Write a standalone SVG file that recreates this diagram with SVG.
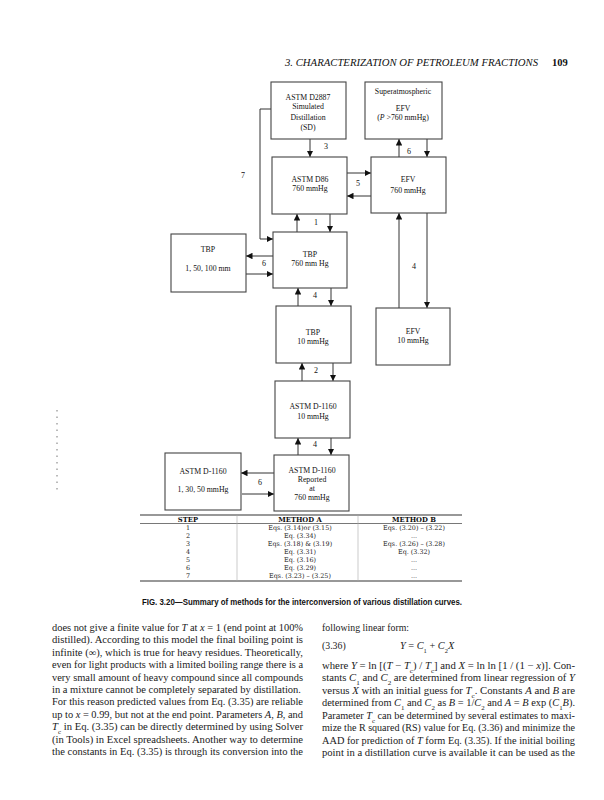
<svg xmlns="http://www.w3.org/2000/svg" width="604" height="800" viewBox="0 0 604 800">
<defs>
<marker id="ah" viewBox="0 0 10 10" refX="10" refY="5" markerWidth="6.5" markerHeight="6.5" markerUnits="userSpaceOnUse" orient="auto">
<path d="M0,0 L10,5 L0,10 z" fill="#111"/>
</marker>
<style>
.box{fill:#fff;stroke:#444;stroke-width:1.1}
.bt{font-family:"Liberation Serif",serif;font-size:7.8px;fill:#111;text-anchor:middle}
.lb{font-family:"Liberation Serif",serif;font-size:8px;fill:#111;text-anchor:middle}
.cn{fill:none;stroke:#333;stroke-width:1}
.ar{marker-end:url(#ah)}
.tt{font-family:"DejaVu Serif","Liberation Serif",serif;font-size:6.4px;fill:#222;text-anchor:middle}
.th{font-family:"DejaVu Serif","Liberation Serif",serif;font-size:6.8px;font-weight:bold;fill:#111;text-anchor:middle}
.body{font-family:"Liberation Serif",serif;font-size:9.8px;fill:#1a1a1a}
.i{font-style:italic}
.sb{font-size:6.5px;baseline-shift:sub}
</style>
</defs>
<rect width="604" height="800" fill="#fff"/>

<text x="285" y="66" font-family="Liberation Serif, serif" font-style="italic" font-size="10.5" fill="#111" textLength="253" lengthAdjust="spacingAndGlyphs">3. CHARACTERIZATION OF PETROLEUM FRACTIONS</text>
<text x="552" y="66" font-family="Liberation Serif, serif" font-weight="bold" font-size="10.5" fill="#111">109</text>

<g id="connectors">
<path class="cn ar" d="M310,139 V157"/>
<path class="cn ar" d="M399,157 V139"/>
<path class="cn ar" d="M427,139 V157"/>
<path class="cn ar" d="M347,173 H371"/>
<path class="cn ar" d="M371,196 H347"/>
<path class="cn ar" d="M297,232 V214"/>
<path class="cn ar" d="M330,214 V232"/>
<path class="cn ar" d="M271,109 H260 V239 H273" stroke="#555"/>
<path class="cn ar" d="M273,256 H246"/>
<path class="cn ar" d="M246,274 H273"/>
<path class="cn ar" d="M298,306 V288"/>
<path class="cn ar" d="M331,288 V306"/>
<path class="cn ar" d="M399,308 V213"/>
<path class="cn ar" d="M427,213 V308"/>
<path class="cn ar" d="M302,381 V363"/>
<path class="cn ar" d="M333,363 V381"/>
<path class="cn ar" d="M298,455 V438"/>
<path class="cn ar" d="M331,438 V455"/>
<path class="cn ar" d="M274,473 H241"/>
<path class="cn ar" d="M242,494 H274"/>
<text class="lb" x="326" y="149">3</text>
<text class="lb" x="409" y="154" font-size="6.5">6</text>
<text class="lb" x="358" y="186">5</text>
<text class="lb" x="243" y="178">7</text>
<text class="lb" x="316" y="225">1</text>
<text class="lb" x="264" y="266">6</text>
<text class="lb" x="315" y="298">4</text>
<text class="lb" x="414" y="269">4</text>
<text class="lb" x="316" y="373">2</text>
<text class="lb" x="315" y="447">4</text>
<text class="lb" x="260" y="485">6</text>
</g>

<g id="sd">
<rect class="box" x="271" y="82" width="75" height="57"/>
<text class="bt" x="308" y="100">ASTM D2887</text>
<text class="bt" x="308" y="108.5">Simulated</text>
<text class="bt" x="308" y="119.5">Distillation</text>
<text class="bt" x="308" y="129.5">(SD)</text>
</g>
<g id="super">
<rect class="box" x="365" y="82" width="77" height="57"/>
<text class="bt" x="403" y="93.5">Superatmospheric</text>
<text class="bt" x="403" y="110.5">EFV</text>
<text class="bt" x="403" y="119.5">(<tspan font-style="italic">P</tspan> &gt;760 mmHg)</text>
</g>
<g id="d86">
<rect class="box" x="272" y="157" width="75" height="57"/>
<text class="bt" x="310" y="181.5">ASTM D86</text>
<text class="bt" x="310" y="190.5">760 mmHg</text>
</g>
<g id="efv760">
<rect class="box" x="371" y="157" width="75" height="56"/>
<text class="bt" x="408" y="181.5">EFV</text>
<text class="bt" x="408" y="192.5">760 mmHg</text>
</g>
<g id="tbp1">
<rect class="box" x="171" y="234" width="75" height="58"/>
<text class="bt" x="208" y="251.5">TBP</text>
<text class="bt" x="208" y="270.5">1, 50, 100 mm</text>
</g>
<g id="tbp760">
<rect class="box" x="273" y="232" width="74" height="56"/>
<text class="bt" x="310" y="256.5">TBP</text>
<text class="bt" x="310" y="265.5">760 mm Hg</text>
</g>
<g id="tbp10">
<rect class="box" x="276" y="306" width="75" height="57"/>
<text class="bt" x="313" y="334.5">TBP</text>
<text class="bt" x="313" y="343.5">10 mmHg</text>
</g>
<g id="efv10">
<rect class="box" x="376" y="308" width="74" height="57"/>
<text class="bt" x="413" y="333.5">EFV</text>
<text class="bt" x="413" y="342.5">10 mmHg</text>
</g>
<g id="d1160_10">
<rect class="box" x="275" y="381" width="75" height="57"/>
<text class="bt" x="313" y="408.5">ASTM D-1160</text>
<text class="bt" x="313" y="418.5">10 mmHg</text>
</g>
<g id="d1160_rep">
<rect class="box" x="274" y="455" width="75" height="56"/>
<text class="bt" x="312" y="472.5">ASTM D-1160</text>
<text class="bt" x="312" y="481.5">Reported</text>
<text class="bt" x="312" y="490.5">at</text>
<text class="bt" x="312" y="499.5">760 mmHg</text>
</g>
<g id="d1160_1">
<rect class="box" x="165" y="453" width="76" height="57"/>
<text class="bt" x="203" y="473.5">ASTM D-1160</text>
<text class="bt" x="203" y="491.5">1, 30, 50 mmHg</text>
</g>

<line x1="57" y1="410" x2="57" y2="494" stroke="#777" stroke-width="1" stroke-dasharray="1.5 5"/>

<g id="table">
<line x1="140" y1="515" x2="462" y2="515" stroke="#333" stroke-width="1.2"/>
<line x1="140" y1="523.5" x2="462" y2="523.5" stroke="#555" stroke-width="0.8"/>
<line x1="140" y1="581" x2="462" y2="581" stroke="#333" stroke-width="1.2"/>
<line x1="237" y1="515" x2="237" y2="581" stroke="#aaa" stroke-width="0.6"/>
<line x1="358" y1="515" x2="358" y2="581" stroke="#aaa" stroke-width="0.6"/>
<text class="th" x="188" y="521.5">STEP</text>
<text class="th" x="300" y="521.5">METHOD A</text>
<text class="th" x="414" y="521.5">METHOD B</text>
<text class="tt" x="188" y="530.3">1</text>
<text class="tt" x="188" y="538.3">2</text>
<text class="tt" x="188" y="546.3">3</text>
<text class="tt" x="188" y="554.3">4</text>
<text class="tt" x="188" y="562.3">5</text>
<text class="tt" x="188" y="570.3">6</text>
<text class="tt" x="188" y="578.3">7</text>
<text class="tt" x="300" y="530.3">Eqs.  (3.14)or (3.15)</text>
<text class="tt" x="300" y="538.3">Eq. (3.34)</text>
<text class="tt" x="300" y="546.3">Eqs. (3.18) &amp; (3.19)</text>
<text class="tt" x="300" y="554.3">Eq. (3.31)</text>
<text class="tt" x="300" y="562.3">Eq. (3.16)</text>
<text class="tt" x="300" y="570.3">Eq. (3.29)</text>
<text class="tt" x="300" y="578.3">Eqs. (3.23) – (3.25)</text>
<text class="tt" x="414" y="530.3">Eqs.  (3.20) – (3.22)</text>
<text class="tt" x="414" y="538.3">...</text>
<text class="tt" x="414" y="546.3">Eqs.  (3.26) – (3.28)</text>
<text class="tt" x="414" y="554.3">Eq. (3.32)</text>
<text class="tt" x="414" y="562.3">...</text>
<text class="tt" x="414" y="570.3">...</text>
<text class="tt" x="414" y="578.3">...</text>
</g>

<text x="142" y="605" font-family="Liberation Sans, Arial, sans-serif" font-weight="bold" font-size="8.2" fill="#111" textLength="320" lengthAdjust="spacingAndGlyphs">FIG. 3.20—Summary of methods for the interconversion of various distillation curves.</text>

<g id="leftcol" class="body">
<text x="52" y="631" textLength="251" lengthAdjust="spacingAndGlyphs">does not give a finite value for <tspan class="i">T</tspan> at <tspan class="i">x</tspan> = 1 (end point at 100%</text>
<text x="52" y="643.4" textLength="251" lengthAdjust="spacingAndGlyphs">distilled). According to this model the final boiling point is</text>
<text x="52" y="655.8" textLength="251" lengthAdjust="spacingAndGlyphs">infinite (∞), which is true for heavy residues. Theoretically,</text>
<text x="52" y="668.2" textLength="251" lengthAdjust="spacingAndGlyphs">even for light products with a limited boiling range there is a</text>
<text x="52" y="680.6" textLength="251" lengthAdjust="spacingAndGlyphs">very small amount of heavy compound since all compounds</text>
<text x="52" y="693" textLength="249" lengthAdjust="spacingAndGlyphs">in a mixture cannot be completely separated by distillation.</text>
<text x="52" y="705.4" textLength="251" lengthAdjust="spacingAndGlyphs">For this reason predicted values from Eq. (3.35) are reliable</text>
<text x="52" y="717.8" textLength="251" lengthAdjust="spacingAndGlyphs">up to <tspan class="i">x</tspan> = 0.99, but not at the end point. Parameters <tspan class="i">A</tspan>, <tspan class="i">B</tspan>, and</text>
<text x="52" y="730.2" textLength="251" lengthAdjust="spacingAndGlyphs"><tspan class="i">T</tspan><tspan class="sb">c</tspan> in Eq. (3.35) can be directly determined by using Solver</text>
<text x="52" y="742.6" textLength="251" lengthAdjust="spacingAndGlyphs">(in Tools) in Excel spreadsheets. Another way to determine</text>
<text x="52" y="755" textLength="251" lengthAdjust="spacingAndGlyphs">the constants in Eq. (3.35) is through its conversion into the</text>
</g>

<g id="rightcol" class="body">
<text x="322" y="631">following linear form:</text>
<text x="322" y="649">(3.36)</text>
<text x="400" y="649" font-size="10.3"><tspan class="i">Y</tspan> = <tspan class="i">C</tspan><tspan class="sb">1</tspan> + <tspan class="i">C</tspan><tspan class="sb">2</tspan><tspan class="i">X</tspan></text>
<text x="322" y="668.5" textLength="253" lengthAdjust="spacingAndGlyphs">where <tspan class="i">Y</tspan> = ln [(<tspan class="i">T</tspan> − <tspan class="i">T</tspan><tspan class="sb">c</tspan>) / <tspan class="i">T</tspan><tspan class="sb">c</tspan>] and <tspan class="i">X</tspan> = ln ln [1 / (1 − <tspan class="i">x</tspan>)]. Con-</text>
<text x="322" y="681" textLength="253" lengthAdjust="spacingAndGlyphs">stants <tspan class="i">C</tspan><tspan class="sb">1</tspan> and <tspan class="i">C</tspan><tspan class="sb">2</tspan> are determined from linear regression of <tspan class="i">Y</tspan></text>
<text x="322" y="693.5" textLength="253" lengthAdjust="spacingAndGlyphs">versus <tspan class="i">X</tspan> with an initial guess for <tspan class="i">T</tspan><tspan class="sb">c</tspan>. Constants <tspan class="i">A</tspan> and <tspan class="i">B</tspan> are</text>
<text x="322" y="706" textLength="253" lengthAdjust="spacingAndGlyphs">determined from <tspan class="i">C</tspan><tspan class="sb">1</tspan> and <tspan class="i">C</tspan><tspan class="sb">2</tspan> as <tspan class="i">B</tspan> = 1/<tspan class="i">C</tspan><tspan class="sb">2</tspan> and <tspan class="i">A</tspan> = <tspan class="i">B</tspan> exp (<tspan class="i">C</tspan><tspan class="sb">1</tspan><tspan class="i">B</tspan>).</text>
<text x="322" y="718.5" textLength="253" lengthAdjust="spacingAndGlyphs">Parameter <tspan class="i">T</tspan><tspan class="sb">c</tspan> can be determined by several estimates to maxi-</text>
<text x="322" y="731" textLength="253" lengthAdjust="spacingAndGlyphs">mize the R squared (RS) value for Eq. (3.36) and minimize the</text>
<text x="322" y="743.5" textLength="253" lengthAdjust="spacingAndGlyphs">AAD for prediction of <tspan class="i">T</tspan> form Eq. (3.35). If the initial boiling</text>
<text x="322" y="756" textLength="253" lengthAdjust="spacingAndGlyphs">point in a distillation curve is available it can be used as the</text>
</g>
</svg>
